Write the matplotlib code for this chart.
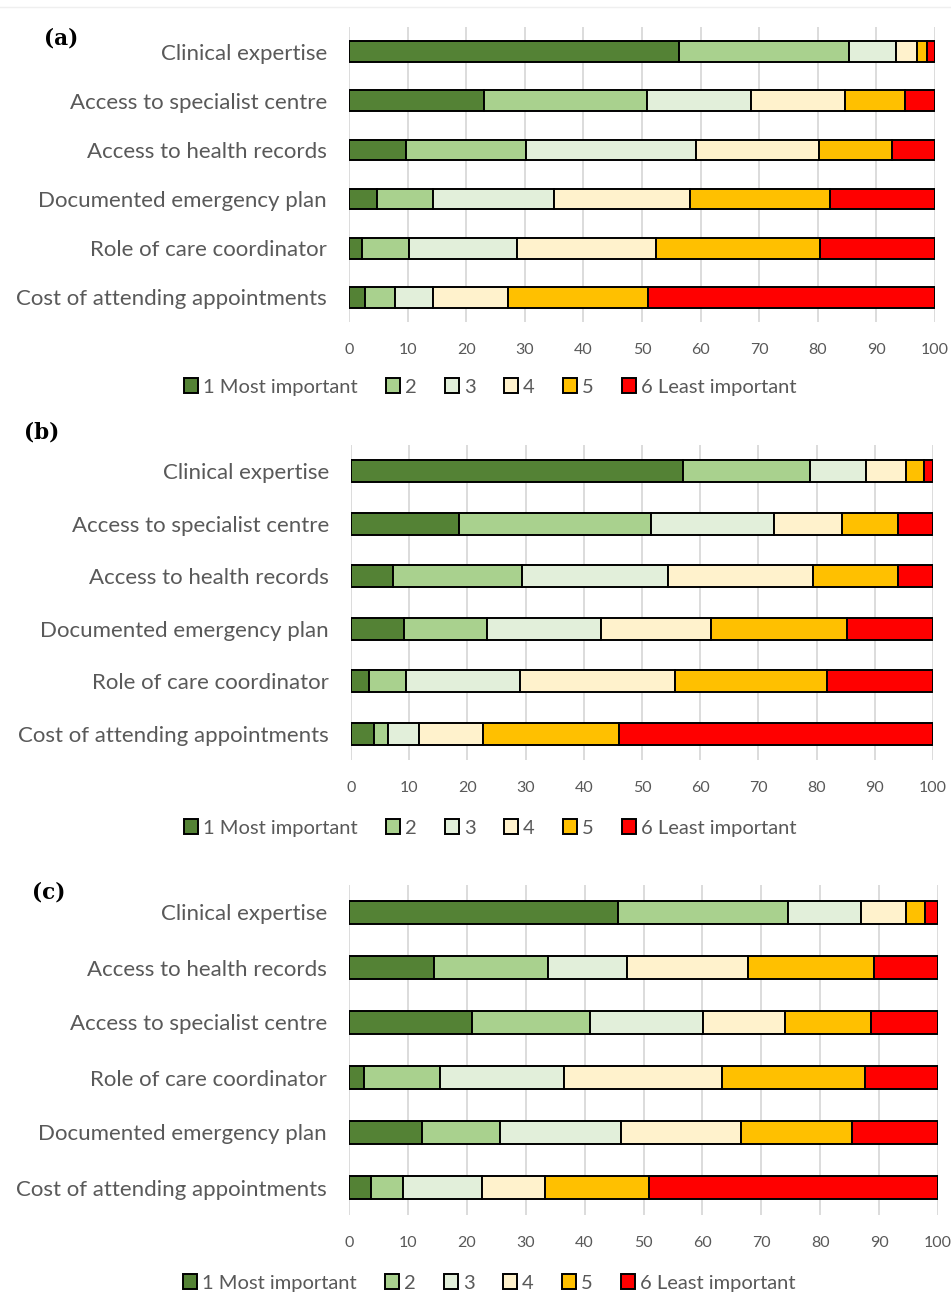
import matplotlib
matplotlib.use("Agg")
import matplotlib.pyplot as plt
from matplotlib.patches import Patch
from matplotlib.lines import Line2D
import numpy as np

plt.rcParams['font.family'] = ['Lato', 'DejaVu Sans']

W, H = 951, 1297

rank_labels = ["1 Most important", "2", "3", "4", "5", "6 Least important"]
rank_colors = ["#548235", "#A9D18E", "#E2EFDA", "#FFF2CC", "#FFC000", "#FF0000"]

# Panel (a)
cats_a = ["Clinical expertise", "Access to specialist centre", "Access to health records",
          "Documented emergency plan", "Role of care coordinator", "Cost of attending appointments"]
vals_a = [
    [56.3, 29.1, 7.9, 3.6, 1.7, 1.4],
    [23.1, 27.8, 17.7, 16.1, 10.1, 5.2],
    [9.7, 20.5, 29.1, 20.9, 12.5, 7.3],
    [4.7, 9.6, 20.7, 23.2, 23.8, 18.0],
    [2.3, 7.9, 18.5, 23.7, 27.9, 19.7],
    [2.7, 5.2, 6.4, 12.8, 23.9, 49.0],
]

# Panel (b)
cats_b = ["Clinical expertise", "Access to specialist centre", "Access to health records",
          "Documented emergency plan", "Role of care coordinator", "Cost of attending appointments"]
vals_b = [
    [57.1, 21.7, 9.7, 6.9, 3.0, 1.6],
    [18.5, 33.0, 21.1, 11.7, 9.7, 6.0],
    [7.2, 22.2, 25.0, 24.9, 14.7, 6.0],
    [9.1, 14.2, 19.6, 19.0, 23.3, 14.8],
    [3.1, 6.3, 19.6, 26.7, 26.1, 18.2],
    [3.9, 2.5, 5.2, 11.1, 23.3, 54.0],
]

# Panel (c)
cats_c = ["Clinical expertise", "Access to health records", "Access to specialist centre",
          "Role of care coordinator", "Documented emergency plan", "Cost of attending appointments"]
vals_c = [
    [45.7, 28.9, 12.4, 7.6, 3.2, 2.2],
    [14.4, 19.4, 13.4, 20.5, 21.4, 10.9],
    [20.8, 20.1, 19.2, 14.0, 14.5, 11.4],
    [2.6, 12.9, 21.0, 26.8, 24.3, 12.4],
    [12.4, 13.2, 20.5, 20.5, 18.8, 14.6],
    [3.7, 5.4, 13.5, 10.6, 17.8, 49.0],
]

x_ticks = list(range(0, 101, 10))

TEXT = "#595959"
GRID = "#D9D9D9"

fig = plt.figure(figsize=(W / 100, H / 100), dpi=100)
fig.patch.set_facecolor("white")

# faint frame line along the top
fig.add_artist(Line2D([0, 1], [1 - 7 / H, 1 - 7 / H], color="#EFEFEF", lw=1))


def px_axes(left, right, top, bottom):
    return fig.add_axes([left / W, 1 - bottom / H, (right - left) / W, (bottom - top) / H])


def draw_panel(box, cats, vals, tag, tag_xy, legend_y, legend_x):
    ax = px_axes(*box)
    data = np.array(vals)
    y = np.arange(len(cats))
    left = np.zeros(len(cats))
    for k in range(data.shape[1]):
        ax.barh(y, data[:, k], left=left, height=0.42, color=rank_colors[k],
                edgecolor="black", linewidth=1.4, zorder=3, label=rank_labels[k])
        left += data[:, k]
    ax.set_xlim(0, 100)
    ax.set_ylim(len(cats) - 0.5, -0.5)
    ax.set_yticks(y)
    ax.set_yticklabels(cats, fontsize=16, color=TEXT)
    ax.set_xticks(x_ticks)
    ax.set_xticklabels([str(t) for t in x_ticks], fontsize=11.5, color=TEXT)
    ax.tick_params(axis="both", length=0)
    ax.tick_params(axis="y", pad=16)
    ax.tick_params(axis="x", pad=15)
    for s in ax.spines.values():
        s.set_visible(False)
    ax.xaxis.grid(True, color=GRID, linewidth=1.3, zorder=0)
    ax.set_axisbelow(True)

    fig.text(tag_xy[0] / W, 1 - tag_xy[1] / H, tag, fontsize=15.5, fontweight="bold",
             family="DejaVu Serif", ha="left", va="center", color="black")

    handles = [Patch(facecolor=c, edgecolor="black", linewidth=1.4) for c in rank_colors]
    fig.legend(handles, rank_labels, loc="center", bbox_to_anchor=(legend_x / W, 1 - legend_y / H),
               ncol=6, frameon=False, fontsize=14.5, labelcolor=TEXT,
               handlelength=0.7, handleheight=0.7, handletextpad=0.25, columnspacing=1.4)
    return ax


draw_panel((349, 935, 27, 322), cats_a, vals_a, "(a)", (44, 38), 387, 490)
draw_panel((351, 933, 445, 760), cats_b, vals_b, "(b)", (24, 432), 828, 490)
draw_panel((349, 938, 885, 1215), cats_c, vals_c, "(c)", (32, 893), 1283, 489)

fig.savefig("out.png", dpi=100, facecolor="white")
